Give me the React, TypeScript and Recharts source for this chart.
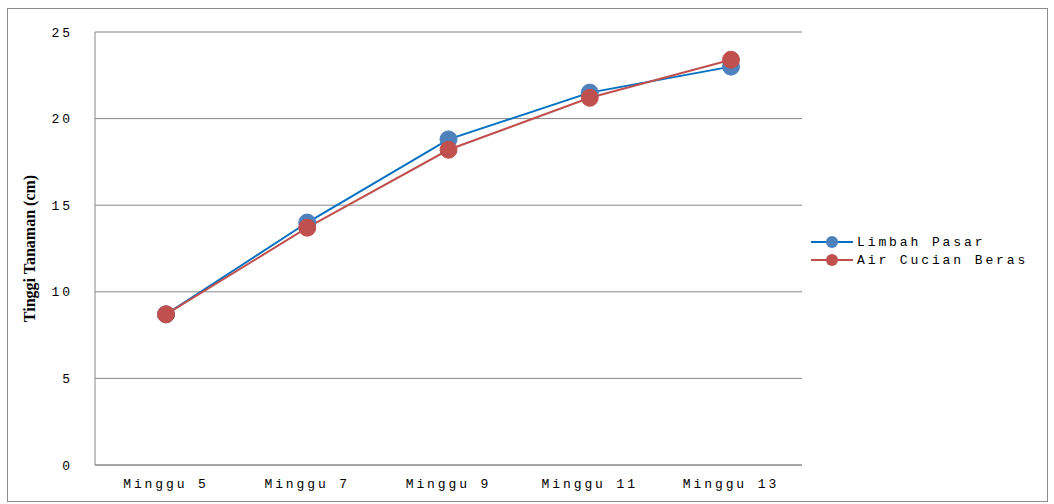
import { LineChart, Line, XAxis, YAxis, CartesianGrid } from "recharts";

const weeks = ["Minggu 5", "Minggu 7", "Minggu 9", "Minggu 11", "Minggu 13"];
const limbahPasar = [8.7, 14.0, 18.8, 21.5, 23.0];
const airCucianBeras = [8.7, 13.7, 18.2, 21.2, 23.4];
const yTicks = [0, 5, 10, 15, 20, 25];

const series = [
  { key: "limbah", name: "Limbah Pasar", line: "#0070C0", dot: "#4F81BD" },
  { key: "beras", name: "Air Cucian Beras", line: "#C0504D", dot: "#C0504D" },
];

const data = weeks.map((w, i) => ({
  week: w,
  limbah: limbahPasar[i],
  beras: airCucianBeras[i],
}));

const mono = "Liberation Mono";
const tickStyle = {
  fill: "#000",
  fontSize: 13,
  style: { fontFamily: mono, letterSpacing: "2.9px" },
};

function LegendBox() {
  return (
    <div
      style={{
        position: "absolute",
        left: 811,
        top: 233,
        fontFamily: mono,
        fontSize: 13,
        letterSpacing: "2.9px",
        color: "#000",
      }}
    >
      {series.map((s) => (
        <div key={s.key} style={{ display: "flex", alignItems: "center", height: 18 }}>
          <svg width={44} height={14}>
            <line x1={0} y1={7} x2={42} y2={7} stroke={s.line} strokeWidth={2} />
            <circle cx={21} cy={7} r={6} fill={s.dot} />
          </svg>
          <span style={{ marginLeft: 2 }}>{s.name}</span>
        </div>
      ))}
    </div>
  );
}

export default function App() {
  return (
    <div style={{ position: "absolute", left: 0, top: 0, width: 1054, height: 504, background: "#fff" }}>
      <div
        style={{
          position: "absolute",
          left: 7,
          top: 8,
          width: 1041,
          height: 494,
          border: "1px solid #8c8c8c",
          boxSizing: "border-box",
        }}
      />
      <LineChart
        width={1054}
        height={504}
        data={data}
        margin={{ top: 32, right: 252, bottom: 0, left: 0 }}
        style={{ position: "absolute", left: 0, top: 0 }}
      >
        <CartesianGrid vertical={false} stroke="#868686" strokeWidth={1} />
        <XAxis
          dataKey="week"
          height={39}
          padding={{ left: 71, right: 71 }}
          tickLine={false}
          axisLine={{ stroke: "#868686" }}
          tick={tickStyle}
          tickMargin={8}
        />
        <YAxis
          width={95}
          domain={[0, 25]}
          ticks={yTicks}
          tickLine={false}
          axisLine={{ stroke: "#868686" }}
          tick={tickStyle}
          tickMargin={16}
          label={{
            value: "Tinggi Tanaman (cm)",
            angle: -90,
            position: "insideLeft",
            offset: 29,
            style: {
              textAnchor: "middle",
              fontFamily: "Liberation Serif",
              fontWeight: "bold",
              fontSize: 16,
              fill: "#000",
            },
          }}
        />
        {series.map((s) => (
          <Line
            key={s.key}
            dataKey={s.key}
            name={s.name}
            stroke={s.line}
            strokeWidth={2}
            dot={{ r: 8.5, fill: s.dot, stroke: s.dot, strokeWidth: 1 }}
            activeDot={false}
            isAnimationActive={false}
          />
        ))}
      </LineChart>
      <LegendBox />
    </div>
  );
}
